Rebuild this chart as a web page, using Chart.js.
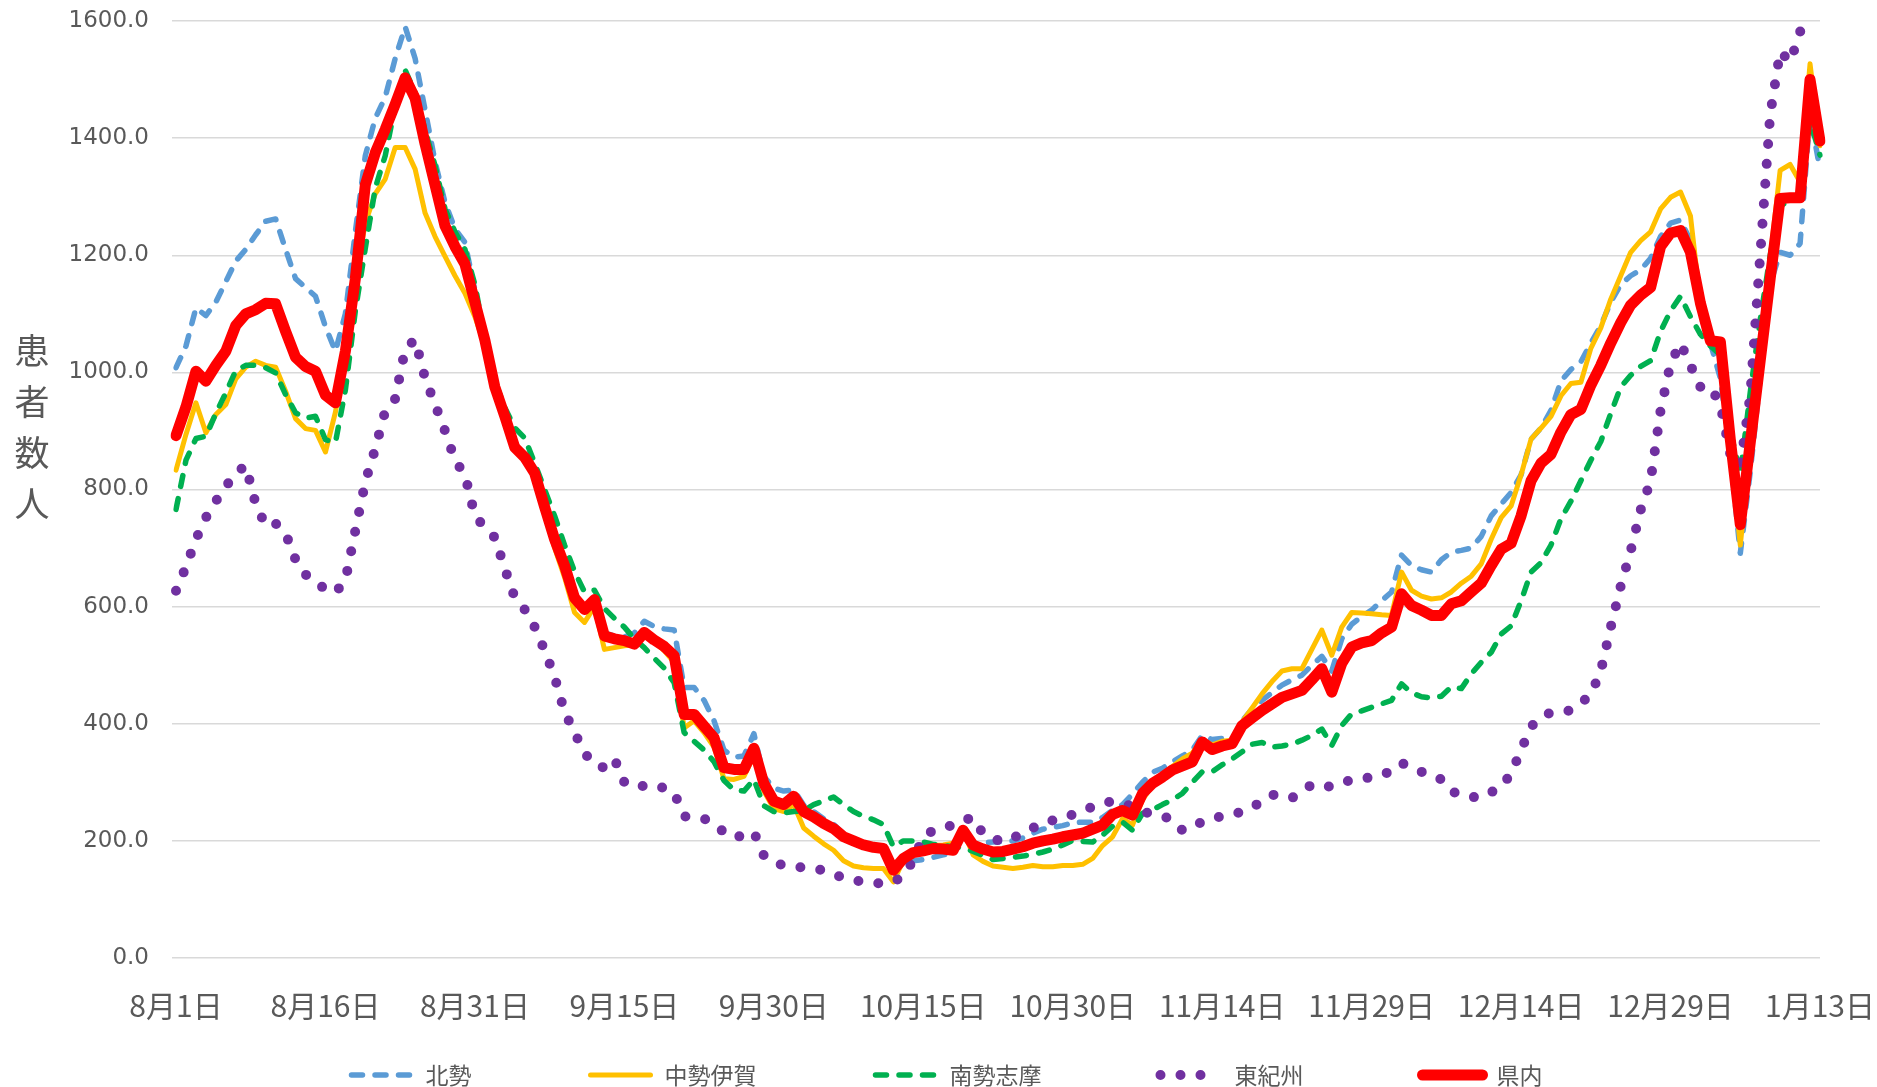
<!DOCTYPE html>
<html>
<head>
<meta charset="utf-8">
<script src="https://cdn.jsdelivr.net/npm/chart.js@4"></script>
<style>
html,body{margin:0;padding:0;background:#fff;}
#wrap{width:1877px;height:1087px;position:relative;}
</style>
</head>
<body>
<div id="wrap"><canvas id="c"></canvas></div>
<script>
// ---- categories / tick labels ----
const DAY_COUNT = 166;
const TICK_EVERY = 15;
const TICK_LABELS = ['8月1日','8月16日','8月31日','9月15日','9月30日','10月15日','10月30日','11月14日','11月29日','12月14日','12月29日','1月13日'];
const SERIES_NAMES = ['北勢','中勢伊賀','南勢志摩','東紀州','県内'];
const Y_TITLE = '患者数人';

// ---- series values (Aug 1 .. Jan 13, daily) ----
const hokusei = [
1008,1045,1110,1097,1120,1155,1190,1210,1235,1258,
1262,1210,1160,1145,1130,1078,1036,1100,1240,1370,
1434,1470,1536,1590,1536,1448,1360,1290,1245,1222,
1140,1065,985,930,878,862,835,778,720,675,
622,600,615,555,550,548,555,575,566,562,
560,462,462,440,405,355,343,345,383,310,
290,285,287,261,250,238,228,212,200,195,
192,190,160,165,166,168,172,176,180,212,
195,197,198,199,200,205,213,220,223,226,
231,232,232,240,252,262,280,300,317,324,
335,345,355,380,373,375,372,405,425,440,
453,466,475,483,500,515,490,545,570,583,
594,610,625,688,670,663,659,680,693,696,
700,720,755,775,795,825,886,905,935,985,
1005,1018,1050,1080,1120,1150,1165,1175,1195,1232,
1255,1260,1225,1097,1050,990,860,691,830,990,
1150,1205,1200,1220,1440,1347];

const chusei = [
833,894,948,897,928,945,989,1009,1019,1012,
1009,968,921,904,901,864,932,1030,1160,1255,
1305,1330,1384,1384,1347,1272,1232,1198,1165,1135,
1095,1045,970,920,868,850,820,760,700,650,
590,573,600,527,530,533,535,550,540,525,
505,393,405,385,360,306,305,310,345,285,
255,250,262,222,208,195,184,166,157,154,
153,153,130,167,180,190,192,193,196,218,
176,165,157,155,153,155,158,156,156,158,
158,160,170,192,207,238,227,270,295,310,
327,340,350,372,364,370,372,403,427,451,
472,490,494,494,527,560,517,565,590,589,
588,586,585,659,628,618,613,615,625,640,
652,673,715,752,772,825,886,905,925,960,
981,983,1041,1076,1125,1165,1205,1225,1240,1279,
1299,1308,1267,1118,1049,1049,875,705,870,1035,
1195,1345,1355,1325,1527,1387];

const nansei = [
766,850,887,891,930,965,1003,1012,1012,1008,
999,962,931,922,925,885,880,970,1105,1212,
1315,1370,1455,1516,1478,1414,1353,1279,1240,1210,
1150,1060,985,940,905,888,845,800,755,705,
660,625,628,597,580,565,545,530,512,495,
470,385,370,355,335,303,287,285,305,260,
250,248,250,252,262,268,275,262,250,242,
236,228,190,200,200,198,194,192,190,188,
182,175,168,170,172,174,177,181,186,193,
201,199,198,210,225,232,218,247,253,262,
270,281,300,318,318,330,340,352,365,368,
360,362,365,372,380,391,363,397,417,422,
428,434,440,468,453,446,444,447,463,460,
485,505,522,553,567,610,659,675,705,750,
780,815,850,882,930,975,995,1010,1020,1070,
1105,1130,1095,1065,1045,1030,900,826,966,1090,
1200,1285,1292,1300,1430,1371];

const higashikishu = [
627,668,715,752,780,805,828,841,775,738,
742,725,680,655,641,630,624,645,730,813,
870,934,955,1040,1056,990,945,900,850,825,
755,735,718,665,615,595,565,525,480,420,
385,350,330,325,340,300,292,294,296,290,
282,242,240,238,228,215,205,210,215,175,
163,158,155,155,152,150,143,137,133,130,
128,127,130,140,167,207,218,224,226,235,
240,212,204,198,205,213,222,231,235,238,
245,252,258,265,267,265,258,250,246,243,
235,218,222,233,238,242,245,250,257,268,
279,276,273,285,296,292,293,298,305,307,
308,312,320,333,325,318,310,305,285,278,
275,274,283,292,315,355,395,412,419,420,
423,435,450,490,565,635,695,765,815,935,
1015,1050,1012,975,975,945,860,840,960,1200,
1440,1548,1530,1580,1720,1700];

const kennai = [
892,941,1002,985,1012,1036,1080,1100,1107,1118,
1117,1070,1026,1010,1002,961,948,1036,1160,1320,
1375,1415,1458,1503,1468,1390,1320,1250,1215,1185,
1120,1055,975,925,872,855,828,770,715,670,
615,595,612,550,545,542,536,556,543,532,
516,416,416,396,376,325,322,322,358,298,
268,262,276,250,241,230,221,207,200,193,
189,187,150,170,180,183,187,186,184,218,
193,186,181,182,186,190,196,200,203,207,
210,213,220,227,245,252,244,281,298,309,
321,328,335,369,356,362,366,397,410,423,
434,445,451,457,475,494,454,503,531,538,
542,555,565,622,602,594,585,585,605,610,
625,640,670,698,708,755,815,845,860,898,
928,937,978,1012,1050,1085,1115,1132,1145,1215,
1238,1242,1205,1118,1054,1052,885,740,880,1020,
1160,1297,1298,1298,1500,1395];

// daily category labels
const categories = [];
for (let i = 0; i < DAY_COUNT; i++) {
  const dt = new Date(2022, 7, 1 + i);
  categories.push((dt.getMonth() + 1) + '月' + dt.getDate() + '日');
}

const CJK = '"Noto Sans CJK JP", "Noto Sans", sans-serif';
const NUMF = '"DejaVu Sans", Verdana, sans-serif';
const GRID = '#D9D9D9';
const TXT = '#595959';

// upright stacked y-axis title
const yTitlePlugin = {
  id: 'yTitle',
  afterDraw(chart) {
    const ctx = chart.ctx;
    ctx.save();
    ctx.fillStyle = TXT;
    ctx.font = '35px ' + CJK;
    ctx.textAlign = 'center';
    ctx.textBaseline = 'middle';
    const chars = Array.from(Y_TITLE);
    const cx = 32, step = 51, y0 = 351;
    chars.forEach((c, i) => ctx.fillText(c, cx, y0 + i * step));
    ctx.restore();
  }
};

// legend drawn with each dataset's own line style
const legendPlugin = {
  id: 'lineLegend',
  afterDraw(chart) {
    const ctx = chart.ctx;
    const ds = chart.data.datasets;
    ctx.save();
    ctx.font = '23px ' + CJK;
    const sample = 60, capPad = 3, textGap = 77, itemGap = 116;
    const widths = ds.map(d => textGap + ctx.measureText(d.label).width);
    const total = widths.reduce((a, b) => a + b, 0) + itemGap * (ds.length - 1);
    let x = 945.5 - total / 2;
    const y = 1075;
    ds.forEach((d, i) => {
      ctx.save();
      ctx.strokeStyle = d.borderColor;
      ctx.lineWidth = d.borderWidth;
      ctx.lineCap = 'round';
      ctx.setLineDash(d.borderDash || []);
      ctx.beginPath();
      ctx.moveTo(x + capPad, y);
      ctx.lineTo(x + capPad + sample, y);
      ctx.stroke();
      ctx.restore();
      ctx.fillStyle = TXT;
      ctx.textAlign = 'left';
      ctx.textBaseline = 'middle';
      ctx.fillText(d.label, x + textGap, y);
      x += widths[i] + itemGap;
    });
    ctx.restore();
  }
};

new Chart(document.getElementById('c'), {
  type: 'line',
  data: {
    labels: categories,
    datasets: [
      {label: SERIES_NAMES[0], data: hokusei, borderColor: '#5B9BD5', borderWidth: 5.5, borderDash: [11, 12.5], borderCapStyle: 'round', order: 5},
      {label: SERIES_NAMES[1], data: chusei, borderColor: '#FFC000', borderWidth: 5, borderCapStyle: 'round', order: 4},
      {label: SERIES_NAMES[2], data: nansei, borderColor: '#00B050', borderWidth: 5.5, borderDash: [11, 12.5], borderCapStyle: 'round', order: 3},
      {label: SERIES_NAMES[3], data: higashikishu, borderColor: '#7030A0', borderWidth: 10, borderDash: [0, 20], borderCapStyle: 'round', order: 2},
      {label: SERIES_NAMES[4], data: kennai, borderColor: '#FF0000', borderWidth: 11, borderCapStyle: 'round', order: 1}
    ]
  },
  options: {
    responsive: true,
    maintainAspectRatio: false,
    animation: false,
    devicePixelRatio: 1,
    layout: {padding: {top: 21, right: 57, bottom: 0, left: 0}},
    elements: {
      point: {radius: 0, hoverRadius: 0},
      line: {tension: 0, borderJoinStyle: 'round', fill: false}
    },
    plugins: {legend: {display: false}, tooltip: {enabled: false}},
    scales: {
      x: {
        grid: {display: false, drawTicks: false},
        border: {display: false},
        ticks: {
          autoSkip: false, maxRotation: 0, minRotation: 0, padding: 30,
          color: TXT, font: {family: CJK, size: 30},
          callback: (v, i) => (i % TICK_EVERY === 0 ? TICK_LABELS[i / TICK_EVERY] : null)
        },
        afterFit(s) { s.height = 129; s.paddingLeft = 0; s.paddingRight = 0; }
      },
      y: {
        min: 0, max: 1600,
        ticks: {stepSize: 200, padding: 23, color: TXT, font: {family: NUMF, size: 23},
          callback: v => Number(v).toFixed(1)},
        grid: {color: GRID, lineWidth: 1.5, tickLength: 4, drawTicks: true},
        border: {display: false},
        afterFit(s) { s.width = 176; s.paddingTop = 0; s.paddingBottom = 0; }
      }
    }
  },
  plugins: [yTitlePlugin, legendPlugin]
});
</script>
</body>
</html>
